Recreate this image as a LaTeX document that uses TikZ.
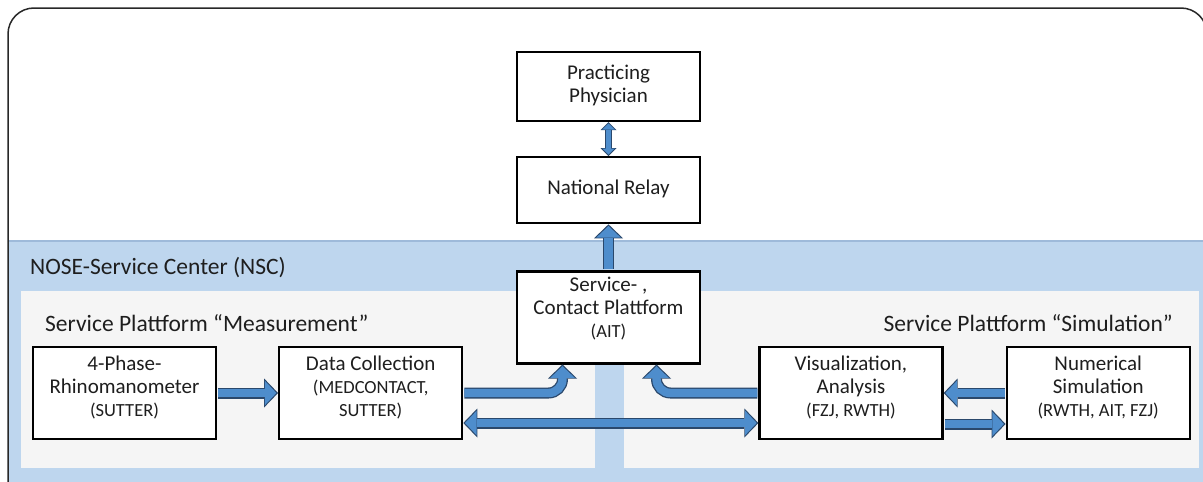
\documentclass[tikz,border=0pt]{standalone}
\usepackage{fontspec}
\setmainfont{Carlito}
\usetikzlibrary{arrows.meta,positioning}

\definecolor{nscblue}{RGB}{190,214,238}
\definecolor{nscedge}{RGB}{158,186,218}
\definecolor{panelgray}{RGB}{245,245,245}
\definecolor{arrowblue}{RGB}{78,141,204}
\definecolor{arrowline}{RGB}{42,72,108}
\definecolor{textgray}{RGB}{30,30,30}
\definecolor{framegray}{RGB}{40,40,40}

\newcommand{\org}[1]{{\fontsize{18.5}{21}\selectfont #1}}

\tikzset{
  unit/.style={draw=black, line width=2.2pt, fill=white, text=textgray, align=center,
    minimum width=183pt, minimum height=92pt, inner sep=2pt, text depth=14pt,
    font=\fontsize{21}{23}\selectfont},
  title/.style={text=textgray, inner sep=0pt, font=\fontsize{23.5}{26}\selectfont},
  fatarrow/.style={line width=11pt, draw=arrowline, shorten <=1pt,
    -{Triangle[width=29pt,length=14pt,line width=0pt]},
    postaction={draw=arrowblue, line width=8.4pt,
      -{Triangle[width=24.5pt,length=11.6pt,line width=0pt]}, shorten >=1.7pt}},
  fatboth/.style={line width=11pt, draw=arrowline,
    {Triangle[width=29pt,length=14pt,line width=0pt]}-{Triangle[width=29pt,length=14pt,line width=0pt]},
    postaction={draw=arrowblue, line width=8.4pt,
      {Triangle[width=24.5pt,length=11.6pt,line width=0pt]}-{Triangle[width=24.5pt,length=11.6pt,line width=0pt]},
      shorten >=1.7pt, shorten <=1.7pt}},
  thinboth/.style={line width=6.5pt, draw=arrowline,
    {Triangle[width=16pt,length=8pt,line width=0pt]}-{Triangle[width=16pt,length=8pt,line width=0pt]},
    postaction={draw=arrowblue, line width=4.4pt,
      {Triangle[width=12.5pt,length=6.2pt,line width=0pt]}-{Triangle[width=12.5pt,length=6.2pt,line width=0pt]},
      shorten >=1.4pt, shorten <=1.4pt}},
}

\begin{document}
\begin{tikzpicture}[x=1pt, y=-1pt]
  \useasboundingbox (0,0) rectangle (1203,482);
  \clip (0,0) rectangle (1203,482);

  % NSC area and the two platforms
  \fill[nscblue] (9,241) rectangle (1203,482);
  \draw[nscedge, line width=1.2pt] (9,241) -- (1203,241);
  \fill[panelgray] (21,291) rectangle (595,468);
  \fill[panelgray] (624,291) rectangle (1199,468);
  \draw[framegray, line width=1.5pt, rounded corners=26pt] (8,8) rectangle (1207,540);

  \node[title, anchor=west] (nsc) at (30,268) {NOSE-Service Center (NSC)};
  \node[title, anchor=west] (meas) at (45,323) {Service Plattform ``Measurement''};
  \node[title, anchor=east] (simu) at (1173,323) {Service Plattform ``Simulation''};

  % top chain
  \node[unit, minimum height=69pt, text depth=5pt] (doc) at (608.5,86.5) {Practicing\\Physician};
  \node[unit, minimum height=66pt, text depth=5pt, below=34pt of doc] (relay) {National Relay};
  \node[unit, text depth=20pt, below=46pt of relay] (svc) {Service- ,\\Contact Plattform\\\org{(AIT)}};

  % bottom row
  \node[unit] (rhino) at (124.5,393) {4-Phase-\\Rhinomanometer\\\org{(SUTTER)}};
  \node[unit, right=61pt of rhino] (dc) {Data Collection\\\org{(MEDCONTACT,}\\\org{SUTTER)}};
  \node[unit] (vis) at (851,393) {Visualization,\\Analysis\\\org{(FZJ, RWTH)}};
  \node[unit, right=62pt of vis] (num) {Numerical\\Simulation\\\org{(RWTH, AIT, FZJ)}};

  \draw[thinboth] (relay.north) -- (doc.south);
  \draw[fatarrow] (svc.north) -- (relay.south);
  \draw[fatarrow] (rhino.east) -- (dc.west);
  \draw[fatarrow, rounded corners=14pt] (dc.east) -| ([xshift=-46pt]svc.south);
  \draw[fatarrow, rounded corners=14pt] (vis.west) -| ([xshift=48pt]svc.south);
  \draw[fatboth] ([yshift=-30pt]dc.east) -- ([yshift=-30pt]vis.west);
  \draw[fatarrow] (num.west) -- (vis.east);
  \draw[fatarrow] ([yshift=-31pt]vis.east) -- ([yshift=-31pt]num.west);
\end{tikzpicture}
\end{document}
